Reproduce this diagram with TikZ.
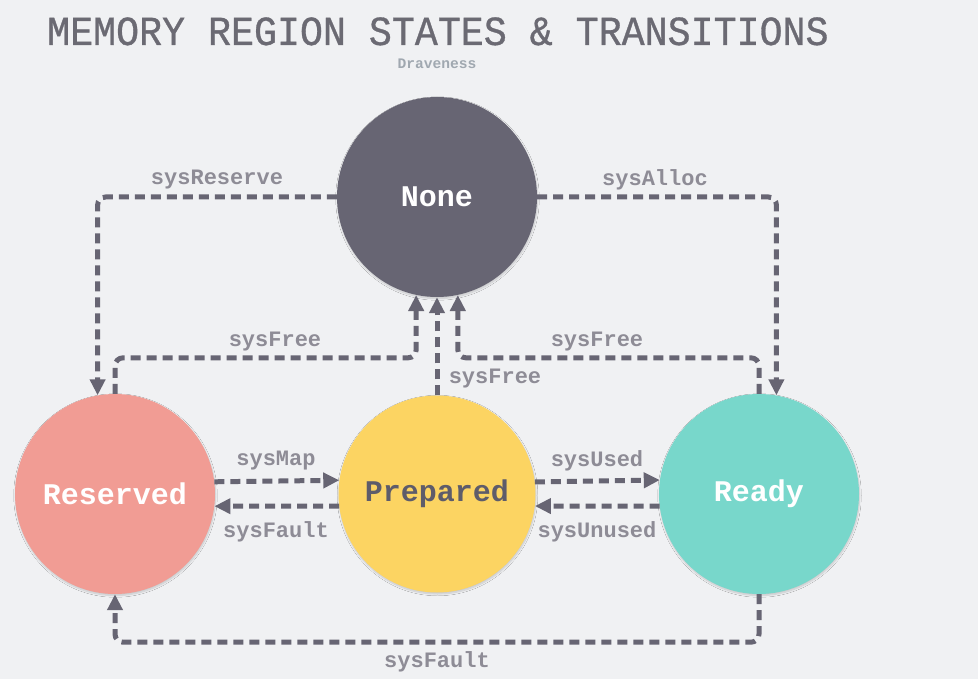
\documentclass[tikz,border=0pt]{standalone}
\usepackage{fontspec}
\setmonofont{Liberation Mono}
\newfontfamily\titlefont[FakeBold=0.8]{Liberation Mono}
\usetikzlibrary{arrows.meta,shadows.blur,calc}
\definecolor{bg}{HTML}{F0F1F3}
\definecolor{lineC}{HTML}{676573}
\definecolor{noneC}{HTML}{676573}
\definecolor{resC}{HTML}{F19C94}
\definecolor{prepC}{HTML}{FCD462}
\definecolor{rdyC}{HTML}{78D7CB}
\definecolor{labC}{HTML}{8E8C96}
\definecolor{titleC}{HTML}{6B6A73}
\definecolor{subC}{HTML}{A0A8B0}
\definecolor{prepT}{HTML}{5E5C6A}
\tikzset{
  state/.style={circle, minimum size=200pt, inner sep=0pt,
    font=\ttfamily\bfseries\fontsize{30}{32}\selectfont, text=white,
    blur shadow={shadow blur steps=8, shadow xshift=0.5pt, shadow yshift=-1.5pt, shadow opacity=18, shadow scale=1.0}},
  conn/.style={draw=lineC, line width=5pt, dash pattern=on 10pt off 6pt,
    rounded corners=8pt, -{Triangle[length=16pt,width=15pt]}},
  lab/.style={font=\ttfamily\bfseries\fontsize{22}{24}\selectfont, text=labC, inner sep=0pt}
}
\begin{document}
\begin{tikzpicture}[x=1pt,y=-1pt]
\fill[bg] (0,0) rectangle (978,679);
\useasboundingbox (0,0) rectangle (978,679);
\node[anchor=base west, inner sep=0pt, text=titleC, yscale=1.08, font=\titlefont\fontsize{38.3}{40}\selectfont] (title) at (47,45) {MEMORY REGION STATES \& TRANSITIONS};
\node[inner sep=0pt, text=subC, font=\ttfamily\bfseries\fontsize{14.6}{16}\selectfont] (sub) at (437,64) {Draveness};

\node[state, fill=noneC] (none) at (437,197) {None};
\node[state, fill=resC] (res) at (115,494) {Reserved};
\node[state, fill=prepC, minimum size=197pt, text=prepT] (prep) at (437,494) {Prepared};
\node[state, fill=rdyC] (rdy) at (759,494) {Ready};

\draw[conn] (none.west) -| (res.100);
\draw[conn] (none.east) -| (rdy.80);
\draw[conn] (res.north) -- ++(0,-36) -| (none.258);
\draw[conn] (prep.north) -- (none.south);
\draw[conn] (rdy.north) -- ++(0,-36) -| (none.282);
\draw[conn] (res.7.5) -- (prep.172.5);
\draw[conn] (prep.187.5) -- (res.-7.5);
\draw[conn] (prep.7.5) -- (rdy.172.5);
\draw[conn] (rdy.187.5) -- (prep.-7.5);
\draw[conn] (rdy.south) -- ++(0,48) -| (res.south);

\node[lab] (l1) at (217,180) {sysReserve};
\node[lab] (l2) at (655,180) {sysAlloc};
\node[lab] (l3) at (275,342) {sysFree};
\node[lab] (l4) at (495,379) {sysFree};
\node[lab] (l5) at (597,342) {sysFree};
\node[lab] (l6) at (276,461) {sysMap};
\node[lab] (l7) at (276,532) {sysFault};
\node[lab] (l8) at (597,461) {sysUsed};
\node[lab] (l9) at (597,532) {sysUnused};
\node[lab] (l10) at (437,662) {sysFault};
\end{tikzpicture}
\end{document}
